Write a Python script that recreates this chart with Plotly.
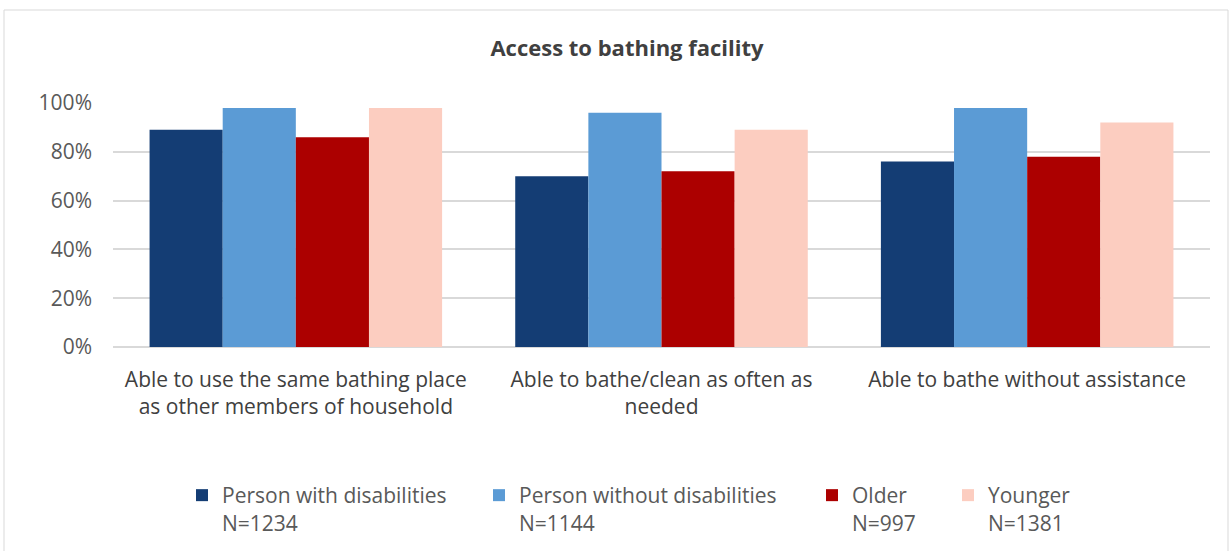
import plotly.graph_objects as go

categories = [
    "Able to use the same bathing place<br>as other members of household",
    "Able to bathe/clean as often as<br>needed",
    "Able to bathe without assistance",
]
series_names = [
    "Person with disabilities<br>N=1234",
    "Person without disabilities<br>N=1144",
    "Older<br>N=997",
    "Younger<br>N=1381",
]
pwd = [0.89, 0.70, 0.76]
pwod = [0.98, 0.96, 0.98]
older = [0.86, 0.72, 0.78]
younger = [0.98, 0.89, 0.92]
series_values = [pwd, pwod, older, younger]
colors = ["#143D74", "#5B9BD5", "#AC0000", "#FCCDC0"]
tick_vals = [0, 0.2, 0.4, 0.6, 0.8, 1.0]
tick_text = ["0%", "20%", "40%", "60%", "80%", "100%"]

FONT = "Open Sans"
TXT = "#595959"
FS = 21

W, H = 1231, 551
ML, MR, MT, MB = 113, 21, 103, 204
PW = W - ML - MR
PH = H - MT - MB

def px_x(px):
    return (px - ML) / PW

def px_y(py):
    return (H - MB - py) / PH

legend_x = [182, 479, 812, 948]

fig = go.Figure()
for i, (name, vals, col) in enumerate(zip(series_names, series_values, colors)):
    fig.add_trace(go.Bar(
        x=categories, y=vals, name=name,
        marker=dict(color=col, line=dict(width=0)),
        legend="legend" if i == 0 else f"legend{i+1}",
    ))

legend_common = dict(
    orientation="v", yanchor="top", xanchor="left", valign="top",
    font=dict(family=FONT, size=FS, color=TXT),
    bgcolor="rgba(0,0,0,0)", itemclick=False,
)
layout_legends = {}
for i, lx in enumerate(legend_x):
    key = "legend" if i == 0 else f"legend{i+1}"
    layout_legends[key] = dict(legend_common, x=px_x(lx), y=px_y(475))

fig.update_layout(
    width=W, height=H,
    margin=dict(l=ML, r=MR, t=MT, b=MB, autoexpand=False),
    paper_bgcolor="white", plot_bgcolor="white",
    barmode="group", bargap=0.2, bargroupgap=0,
    title=dict(text="<b>Access to bathing facility</b>", x=627 / W, xanchor="center",
               y=1 - 48 / H, yanchor="middle",
               font=dict(family=FONT, size=22, color="#404040")),
    font=dict(family=FONT, size=FS, color=TXT),
    xaxis=dict(showgrid=False, showline=False, ticks="", ticklabelstandoff=18,
               tickfont=dict(family=FONT, size=FS, color="#404040")),
    yaxis=dict(range=[0, 1.0], tickvals=tick_vals, ticktext=tick_text,
               showgrid=True, gridcolor="#D9D9D9", gridwidth=1.5,
               zeroline=True, zerolinecolor="#D9D9D9", zerolinewidth=1.5,
               showline=False, ticks="", ticklabelstandoff=20,
               tickfont=dict(family=FONT, size=FS, color=TXT)),
    showlegend=True,
    **layout_legends,
)
fig.add_shape(type="rect", xref="paper", yref="paper",
              x0=px_x(4), x1=px_x(1228), y0=px_y(10), y1=px_y(560),
              line=dict(color="#D9D9D9", width=1), fillcolor="rgba(0,0,0,0)", layer="below")

fig.write_html("out.html")
